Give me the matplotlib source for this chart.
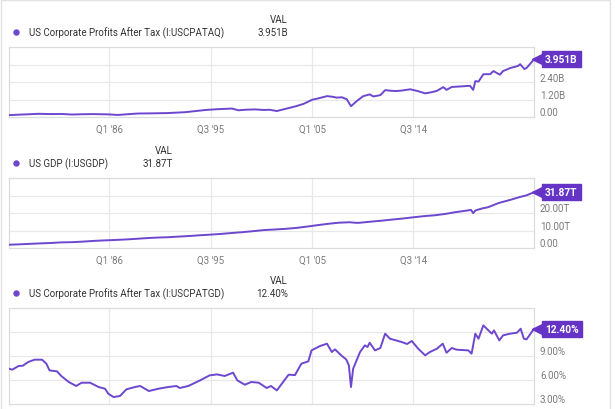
import matplotlib
matplotlib.use("Agg")
import matplotlib.pyplot as plt
from matplotlib.lines import Line2D
from matplotlib.transforms import offset_copy

# Data (decimal years)
profit_years = [1976.6, 1977.5, 1978.5, 1979.4, 1980.5, 1981.5, 1982.5, 1983.5, 1984.5, 1985.9,
                1986.8, 1987.7, 1988.7, 1990.0, 1991.5, 1993.1, 1994.0, 1995.0, 1996.0, 1997.5,
                1998.1, 1998.8, 1999.7, 2000.5, 2001.0, 2001.7, 2002.9, 2003.5, 2004.2, 2005.0,
                2005.6, 2006.4, 2006.9, 2007.3, 2007.8, 2008.25, 2008.65, 2009.2, 2009.8, 2010.4,
                2010.75, 2011.4, 2011.85, 2012.4, 2012.9, 2013.5, 2014.2, 2014.9, 2015.6, 2016.2,
                2016.7, 2017.3, 2017.6, 2018.1, 2019.0, 2019.8, 2020.1, 2020.3, 2020.6, 2021.05,
                2021.7, 2022.0, 2022.6, 2022.9, 2023.55, 2024.3, 2024.5, 2024.9, 2025.1, 2025.8]
profit_vals = [0.13, 0.16, 0.19, 0.22, 0.20, 0.21, 0.17, 0.19, 0.20, 0.18,
               0.14, 0.19, 0.24, 0.25, 0.27, 0.33, 0.40, 0.48, 0.53, 0.58,
               0.46, 0.50, 0.52, 0.48, 0.50, 0.41, 0.63, 0.74, 0.90, 1.18,
               1.28, 1.43, 1.39, 1.33, 1.35, 1.22, 0.74, 1.10, 1.43, 1.55,
               1.41, 1.50, 1.84, 1.80, 1.78, 1.82, 1.90, 1.78, 1.62, 1.70,
               1.79, 2.05, 1.86, 2.06, 2.10, 2.14, 1.86, 2.46, 2.43, 2.93,
               2.94, 3.15, 2.90, 3.15, 3.35, 3.50, 3.62, 3.29, 3.36, 3.951]

gdp_years = [1976.6, 1977.5, 1978.5, 1979.5, 1980.5, 1981.5, 1982.5, 1983.5, 1984.5, 1985.5,
             1986.5, 1987.5, 1988.5, 1989.5, 1990.5, 1991.5, 1992.5, 1993.5, 1994.5, 1995.5,
             1996.5, 1997.5, 1998.5, 1999.5, 2000.5, 2001.5, 2002.5, 2003.5, 2004.5, 2005.5,
             2006.5, 2007.5, 2008.5, 2009.2, 2009.5, 2010.5, 2011.5, 2012.5, 2013.5, 2014.5,
             2015.5, 2016.5, 2017.5, 2018.5, 2019.5, 2019.9, 2020.1, 2020.3, 2020.6, 2021.0,
             2021.5, 2022.5, 2023.5, 2024.5, 2025.1, 2025.8]
gdp_vals = [1.87, 2.08, 2.35, 2.63, 2.86, 3.21, 3.34, 3.64, 4.04, 4.34,
            4.58, 4.86, 5.24, 5.64, 5.96, 6.16, 6.52, 6.86, 7.29, 7.64,
            8.07, 8.58, 9.06, 9.63, 10.25, 10.58, 10.94, 11.46, 12.21, 13.04,
            13.82, 14.45, 14.71, 14.35, 14.45, 15.05, 15.60, 16.25, 16.84, 17.55,
            18.21, 18.70, 19.48, 20.53, 21.38, 21.75, 19.90, 21.40, 22.00, 22.70,
            23.30, 25.74, 27.36, 29.18, 30.10, 31.87]

share_years = [1976.6, 1976.9, 1977.5, 1977.9, 1978.4, 1979.0, 1979.7, 1980.1, 1980.4, 1981.1,
               1981.5, 1982.2, 1982.9, 1983.4, 1984.2, 1985.0, 1985.6, 1985.9, 1986.4, 1987.0,
               1987.6, 1988.4, 1988.9, 1989.7, 1990.6, 1991.5, 1992.3, 1992.6, 1993.4, 1994.5,
               1995.4, 1996.1, 1996.8, 1997.6, 1998.0, 1998.7, 1999.3, 2000.0, 2000.75, 2001.15,
               2001.7, 2002.8, 2003.4, 2004.0, 2004.65, 2004.95, 2005.75, 2006.4, 2006.85, 2007.15,
               2007.8, 2008.2, 2008.45, 2008.65, 2008.85, 2009.5, 2009.95, 2010.2, 2010.4, 2010.9,
               2011.4, 2011.85, 2012.3, 2013.4, 2013.9, 2014.35, 2014.95, 2015.6, 2016.05, 2016.7,
               2017.25, 2017.6, 2018.1, 2018.55, 2019.65, 2019.95, 2020.3, 2020.6, 2021.05, 2021.85,
               2022.05, 2022.55, 2022.9, 2023.55, 2024.2, 2024.55, 2024.85, 2025.1, 2025.8]
share_vals = [7.41, 7.29, 7.75, 7.79, 8.25, 8.54, 8.54, 8.04, 7.20, 7.08,
              6.50, 5.75, 5.25, 5.66, 5.66, 5.12, 4.91, 4.29, 3.87, 4.00,
              4.83, 5.12, 5.25, 4.62, 4.91, 5.12, 5.25, 5.00, 5.25, 5.95,
              6.58, 6.70, 6.50, 6.91, 5.95, 5.41, 5.75, 5.66, 5.00, 5.25,
              4.70, 6.66, 6.62, 8.04, 8.33, 9.70, 10.25, 10.54, 9.50, 9.83,
              9.00, 8.58, 7.83, 5.12, 7.41, 9.50, 10.33, 10.12, 10.66, 9.70,
              10.00, 11.79, 11.16, 10.75, 10.50, 10.87, 9.91, 9.08, 9.50, 9.91,
              10.54, 9.41, 10.00, 9.79, 9.70, 9.29, 11.79, 11.16, 12.83, 11.79,
              12.20, 10.95, 11.58, 11.79, 11.91, 12.41, 11.16, 11.08, 12.40]

x_ticks = [1986.0, 1995.5, 2005.0, 2014.5]
x_labels = ["Q1 '86", "Q3 '95", "Q1 '05", "Q3 '14"]

W, H = 615, 410
LINE = "#6d47cf"
BOX = "#6534c6"
GRID = "#e8e8e8"
EDGE = "#dcdcdc"
TICK = "#7a7a7a"
TEXT = "#333333"
FS = 7.0

plt.rcParams["font.family"] = ["Roboto", "DejaVu Sans"]
fig = plt.figure(figsize=(6.15, 4.1), dpi=100)

# light frame around the widget
fig.add_artist(Line2D([1/W, 1/W, 610/W, 610/W], [0, 1-1/H, 1-1/H, 0],
                      transform=fig.transFigure, color="#e2e2e2", lw=1))


def panel(top, bottom, years, vals, ylim, grid_vals, labels, box_text, name, val_text,
          val_right, show_x=True):
    ax = fig.add_axes([9/W, 1-bottom/H, (534-9)/W, (bottom-top)/H])
    ax.plot(years, vals, color=LINE, lw=1.4, solid_joinstyle="round", zorder=3)
    ax.set_xlim(1976.6, 2025.8)
    ax.set_ylim(*ylim)
    ax.set_yticks([])
    ax.set_xticks(x_ticks)
    if show_x:
        ax.set_xticklabels(x_labels, fontsize=FS, color=TICK)
    else:
        ax.set_xticklabels([])
    ax.tick_params(axis="x", length=0, pad=5)
    ax.grid(axis="x", color=GRID, lw=0.9)
    for g in grid_vals:
        ax.axhline(g, color=GRID, lw=0.9, zorder=1)
    for s in ax.spines.values():
        s.set_color(EDGE)
        s.set_linewidth(0.9)
    tr = offset_copy(ax.get_yaxis_transform(), fig=fig, x=6, y=4.5, units="dots")
    for v, lab in labels:
        ax.text(1.0, v, lab, transform=tr, fontsize=FS, color=TICK, va="center",
                ha="left", clip_on=False)
    # value flag at the last point
    mk = offset_copy(ax.transData, fig=fig, x=4.5, y=0, units="dots")
    ax.plot(years[-1], vals[-1], marker="<", ms=9.5, color=BOX, mec=BOX,
            transform=mk, clip_on=False, zorder=5)
    ax.annotate(box_text, (years[-1], vals[-1]), xytext=(11, 0), textcoords="offset pixels",
                ha="left", va="center", fontsize=7.3, fontweight="bold", color="white",
                annotation_clip=False, zorder=6,
                bbox=dict(boxstyle="square,pad=0.3", fc=BOX, ec=BOX))
    # legend header
    ly = top - 15
    fig.add_artist(Line2D([16/W], [1-ly/H], marker="o", ms=3.6, color=LINE,
                          transform=fig.transFigure))
    fig.text(29/W, 1-ly/H, name, fontsize=FS, color=TEXT, va="center", ha="left")
    fig.text(val_right/W, 1-(ly-13)/H, "VAL", fontsize=FS, color=TEXT, va="center", ha="right")
    fig.text(val_right/W, 1-ly/H, val_text, fontsize=FS, color=TEXT, va="center", ha="right")
    return ax


panel(48, 118, profit_years, profit_vals, (0, 4.8), [1.2, 2.4, 3.6],
      [(0, "0.00"), (1.2, "1.20B"), (2.4, "2.40B")], "3.951B",
      "US Corporate Profits After Tax (I:USCPATAQ)", "3.951B", 288)

panel(179, 249, gdp_years, gdp_vals, (0, 40), [10, 20, 30],
      [(0, "0.00"), (10, "10.00T"), (20, "20.00T")], "31.87T",
      "US GDP (I:USGDP)", "31.87T", 173)

panel(309, 405, share_years, share_vals, (3, 15), [6, 9, 12],
      [(3, "3.00%"), (6, "6.00%"), (9, "9.00%")], "12.40%",
      "US Corporate Profits After Tax (I:USCPATGD)", "12.40%", 288, show_x=False)

fig.savefig("out.png", dpi=100)
